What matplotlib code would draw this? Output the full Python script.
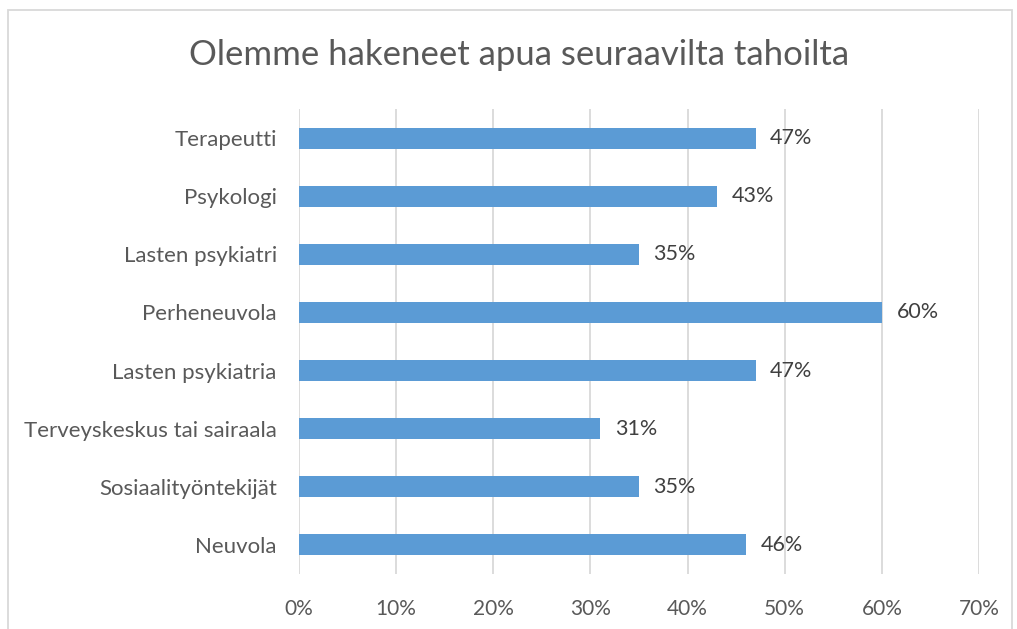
import matplotlib
matplotlib.use("Agg")
import matplotlib.pyplot as plt
from matplotlib.patches import Rectangle
from matplotlib.ticker import FuncFormatter, MultipleLocator

categories = ["Neuvola", "Sosiaalityöntekijät", "Terveyskeskus tai sairaala",
              "Lasten psykiatria", "Perheneuvola", "Lasten psykiatri",
              "Psykologi", "Terapeutti"]
values = [46, 35, 31, 47, 60, 35, 43, 47]
title = "Olemme hakeneet apua seuraavilta tahoilta"

plt.rcParams['font.family'] = ['Lato', 'DejaVu Sans']
text_color = "#595959"
grid_color = "#D9D9D9"
bar_color = "#5B9BD5"

fig = plt.figure(figsize=(10.17, 6.29), dpi=100)
fig.patches.append(Rectangle((8/1017, -0.05), (1012-8)/1017, 1.05 - 10/629,
                             transform=fig.transFigure, fill=False,
                             edgecolor=grid_color, linewidth=1.3))
ax = fig.add_axes([299/1017, (629-574)/629, (979-299)/1017, (574-109)/629])

y = list(range(len(categories)))
ax.barh(y, values, height=0.36, color=bar_color, zorder=3)
for yi, v in zip(y, values):
    ax.text(v + 1.5, yi, f"{v}%", va="center", ha="left", fontsize=15.5, color="#404040")

ax.set_xlim(0, 70)
ax.set_ylim(-0.5, len(categories) - 0.5)
ax.set_yticks(y)
ax.set_yticklabels(categories)
ax.xaxis.set_major_locator(MultipleLocator(10))
ax.xaxis.set_major_formatter(FuncFormatter(lambda x, p: f"{int(round(x))}%"))
ax.grid(axis="x", color=grid_color, linewidth=1.3, zorder=0)
for s in ax.spines.values():
    s.set_visible(False)
ax.tick_params(axis="both", length=0, colors=text_color)
ax.tick_params(axis="y", pad=16, labelsize=16)
ax.tick_params(axis="x", pad=18, labelsize=15)

fig.text(519/1017, 1 - 55/629, title, ha="center", va="center", fontsize=25, color=text_color)

fig.savefig("out.png", dpi=100)
